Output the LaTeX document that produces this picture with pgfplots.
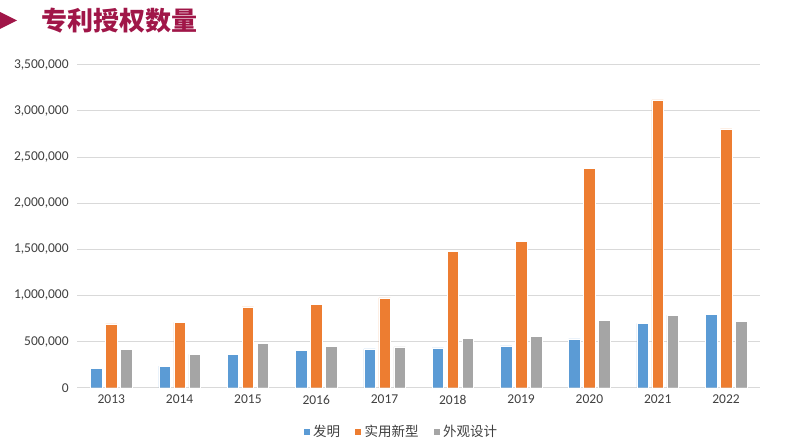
\documentclass[border=0pt]{standalone}
\usepackage{pgfplots}
\pgfplotsset{compat=1.18}
\usepackage{fontspec}
\setmainfont{Carlito}
\newfontfamily\cjk{Noto Sans CJK SC}
\definecolor{cblue}{HTML}{5B9BD5}
\definecolor{corange}{HTML}{ED7D31}
\definecolor{cgray}{HTML}{A5A5A5}
\definecolor{titlered}{RGB}{160,22,72}
\definecolor{txt}{RGB}{64,64,64}
\begin{document}
\begin{tikzpicture}[x=1pt,y=1pt]
\useasboundingbox (0,0) rectangle (809,444);
\fill[titlered] (0,432) -- (17,423.5) -- (0,415) -- cycle;
\node[anchor=west,text=titlered,font=\cjk\bfseries\fontsize{26}{30}\selectfont] at (38,423) {专利授权数量};
\begin{axis}[
    at={(113,61)}, anchor=south west,
    scale only axis, width=683pt, height=323pt,
    ybar=3.5pt, bar width=11.5pt,
    xmin=-0.5, xmax=9.5,
    ymin=0, ymax=3500000,
    ytick={0,500000,1000000,1500000,2000000,2500000,3000000,3500000},
    scaled y ticks=false,
    xtick=data,
    xticklabels={2013,2014,2015,2016,2017,2018,2019,2020,2021,2022},
    /pgf/number format/fixed,
    /pgf/number format/1000 sep={,},
    /pgf/number format/assume math mode=true,
    ymajorgrids, grid style={draw=black!15, line width=0.8pt},
    axis line style={draw=none},
    major tick length=0pt,
    tick label style={font=\fontsize{13.5}{15}\selectfont, text=txt},
    yticklabel style={xshift=-5pt},
    xticklabel style={yshift=-4pt},
    legend style={at={(0.474,-0.136)}, anchor=center, draw=none,
        legend columns=3, font=\cjk\fontsize{13.5}{16}\selectfont, text=txt,
        /tikz/every odd column/.append style={column sep=1pt},
        /tikz/every even column/.append style={column sep=12pt}},
    legend image code/.code={\fill[#1] (0pt,-3.5pt) rectangle (7pt,3.5pt);},
]
\draw[black!15, line width=0.8pt] (rel axis cs:0,0) -- (rel axis cs:1,0);
\addplot[fill=cblue, draw=white, line width=0.4pt] coordinates {
(0,207688) (1,233228) (2,359316) (3,404208) (4,420144)
(5,432147) (6,452804) (7,530127) (8,695946) (9,798347)};
\addplot[fill=corange, draw=white, line width=0.4pt] coordinates {
(0,692845) (1,707883) (2,876217) (3,903420) (4,973294)
(5,1479062) (6,1582274) (7,2377223) (8,3119990) (9,2804155)};
\addplot[fill=cgray, draw=white, line width=0.4pt] coordinates {
(0,412467) (1,361576) (2,482659) (3,446135) (4,442996)
(5,536251) (6,556529) (7,731918) (8,785521) (9,720907)};
\legend{发明,实用新型,外观设计}
\end{axis}
\end{tikzpicture}
\end{document}
